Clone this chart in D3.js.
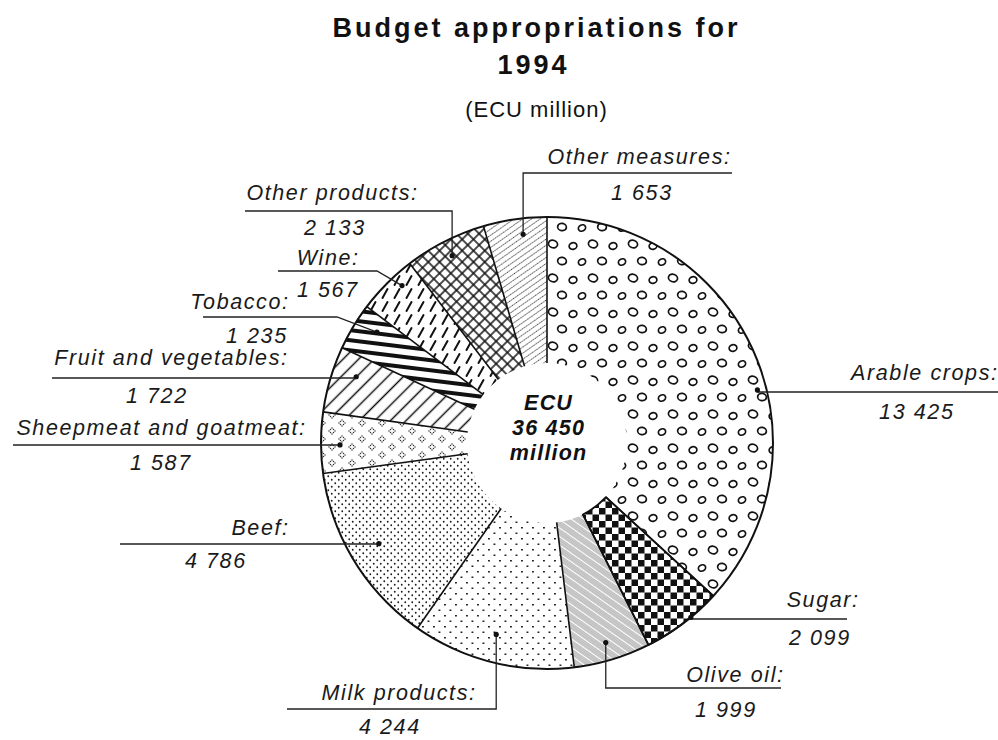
<!DOCTYPE html>
<html>
<head>
<meta charset="utf-8">
<script src="https://cdn.jsdelivr.net/npm/d3@7"></script>
<style>
  body { margin: 0; background: #fff; }
  svg { display: block; font-family: "Liberation Sans", Arial, Helvetica, sans-serif; }
</style>
</head>
<body>
<svg id="chart" width="998" height="740"></svg>
<script>
// CAP budget appropriations, 1994 (ECU million), clockwise from 12 o'clock
const categories = [
  "Arable crops", "Sugar", "Olive oil", "Milk products", "Beef",
  "Sheepmeat and goatmeat", "Fruit and vegetables", "Tobacco", "Wine",
  "Other products", "Other measures"
];
const values = [13425, 2099, 1999, 4244, 4786, 1587, 1722, 1235, 1567, 2133, 1653];
const fillPatterns = [
  "p-arable", "p-sugar", "p-olive", "p-milk", "p-beef",
  "p-sheep", "p-fruit", "p-tobacco", "p-wine", "p-otherprod", "p-othermeas"
];
const titleLines = ["Budget appropriations for", "1994"];
const subtitle = "(ECU million)";
const centreLines = ["ECU", null, "million"]; // middle line holds the total

// Callout layout: anchor point inside the slice (t = fraction of its sweep, r = radius),
// the level of the leader's horizontal run, and where the two text lines sit.
const labelLayout = [
  { t: 0.572, r: 217, lineY: 392, elbowX: null, endX: 998, nameX: 997, nameY: 380, numX: 916, numY: 419 },
  { t: 0.38,  r: 226, lineY: 619, elbowX: null, endX: 847, nameX: 858, nameY: 607, numX: 819, numY: 645 },
  { t: 0.52,  r: 208, lineY: 688, elbowX: null, endX: 781, nameX: 783, nameY: 682, numX: 725, numY: 717 },
  { t: 0.52,  r: 198, lineY: 709, elbowX: null, endX: 287, nameX: 475, nameY: 700, numX: 389, numY: 734 },
  { t: 0.51,  r: 196, lineY: 544, elbowX: null, endX: 120, nameX: 288, nameY: 535, numX: 215, numY: 568 },
  { t: 0.46,  r: 207, lineY: 445, elbowX: null, endX: 13,  nameX: 305, nameY: 435, numX: 160, numY: 470 },
  { t: 0.66,  r: 202, lineY: 378, elbowX: null, endX: 52,  nameX: 287, nameY: 365, numX: 156, numY: 403 },
  { t: 0.67,  r: 203, lineY: 317, elbowX: 337,  endX: 203, nameX: 288, nameY: 309, numX: 256, numY: 343 },
  { t: 0.66,  r: 214, lineY: 271, elbowX: 377,  endX: 278, nameX: 358, nameY: 265, numX: 327, numY: 297 },
  { t: 0.50,  r: 210, lineY: 211, elbowX: null, endX: 245, nameX: 417, nameY: 200, numX: 334, numY: 235 },
  { t: 0.60,  r: 210, lineY: 173, elbowX: null, endX: 732, nameX: 730, nameY: 164, numX: 641, numY: 200 }
];

const cx = 547, cy = 443, outerR = 226, innerR = 80;
const fmt = v => d3.format(",")(v).replace(/,/g, " ");
const labelSize = 21.5, labelSpacing = 1.6;

const svg = d3.select("#chart");
const defs = svg.append("defs");

function makePattern(id, w, h, transform) {
  const p = defs.append("pattern")
    .attr("id", id)
    .attr("patternUnits", "userSpaceOnUse")
    .attr("width", w).attr("height", h);
  if (transform) p.attr("patternTransform", transform);
  p.append("rect").attr("width", w).attr("height", h).attr("fill", "#fff");
  return p;
}

// Arable crops: open rings of slightly uneven size
{
  const w = 40, h = 34;
  const p = makePattern("p-arable", w, h);
  const rings = [[6, 5, 4.6, 3.8, 20], [26, 7, 3.9, 3.3, -15], [15, 22, 4.4, 3.6, 10], [35, 23, 3.7, 3.1, -25]];
  rings.forEach(([x, y, rx, ry, a]) => {
    [[0, 0], [w, 0], [-w, 0], [0, h], [0, -h], [w, h], [-w, -h], [w, -h], [-w, h]].forEach(([ox, oy]) => {
      const X = x + ox, Y = y + oy;
      p.append("ellipse")
        .attr("cx", X).attr("cy", Y).attr("rx", rx).attr("ry", ry)
        .attr("transform", `rotate(${a},${X},${Y})`)
        .attr("fill", "#fff").attr("stroke", "#111").attr("stroke-width", 1.7);
    });
  });
}
// Sugar: checkerboard
{
  const p = makePattern("p-sugar", 13, 13);
  p.append("rect").attr("x", 0).attr("y", 0).attr("width", 6.5).attr("height", 6.5).attr("fill", "#111");
  p.append("rect").attr("x", 6.5).attr("y", 6.5).attr("width", 6.5).attr("height", 6.5).attr("fill", "#111");
}
// Olive oil: bands of fine dots
{
  const p = makePattern("p-olive", 2, 7, "rotate(35)");
  [0.4, 2.4, 4.4].forEach(y => p.append("rect").attr("x", 0.4).attr("y", y)
    .attr("width", 1.1).attr("height", 1.1).attr("fill", "#444"));
}
// Milk products: sparse dots
{
  const p = makePattern("p-milk", 11, 11);
  [[1.5, 1.5], [7, 7]].forEach(([x, y]) => p.append("rect").attr("x", x).attr("y", y)
    .attr("width", 1.9).attr("height", 1.5).attr("fill", "#222"));
}
// Beef: dense dots
{
  const p = makePattern("p-beef", 7, 7);
  [[1.75, 1.75], [5.25, 5.25]].forEach(([x, y]) => p.append("circle")
    .attr("cx", x).attr("cy", y).attr("r", 0.9).attr("fill", "#1a1a1a"));
}
// Sheepmeat and goatmeat: little diamonds of dots
{
  const p = makePattern("p-sheep", 20, 16);
  const ring = [[0, -3], [1.5, -1.5], [3, 0], [1.5, 1.5], [0, 3], [-1.5, 1.5], [-3, 0], [-1.5, -1.5]];
  [[5, 4], [15, 12], [25, 4], [-5, 12], [5, 20], [25, 20], [15, -4]].forEach(([x, y]) =>
    ring.forEach(([dx, dy]) => p.append("circle")
      .attr("cx", x + dx).attr("cy", y + dy).attr("r", 0.75).attr("fill", "#333")));
}
// Fruit and vegetables: diagonal hatching
{
  const p = makePattern("p-fruit", 11, 11, "rotate(45)");
  p.append("line").attr("x1", 5.5).attr("x2", 5.5).attr("y1", 0).attr("y2", 11)
    .attr("stroke", "#111").attr("stroke-width", 1.5);
}
// Tobacco: heavy stripes
{
  const p = makePattern("p-tobacco", 10, 10, "rotate(7)");
  p.append("rect").attr("x", 0).attr("y", 0).attr("width", 10).attr("height", 4).attr("fill", "#111");
}
// Wine: short dashes
{
  const p = makePattern("p-wine", 12, 13);
  p.append("line").attr("x1", 3.5).attr("y1", 11).attr("x2", 8.5).attr("y2", 2)
    .attr("stroke", "#111").attr("stroke-width", 2).attr("stroke-linecap", "round");
}
// Other products: cross-hatching
{
  const p = makePattern("p-otherprod", 8, 8, "rotate(45)");
  p.append("line").attr("x1", 4).attr("x2", 4).attr("y1", 0).attr("y2", 8).attr("stroke", "#111").attr("stroke-width", 1.5);
  p.append("line").attr("x1", 0).attr("x2", 8).attr("y1", 4).attr("y2", 4).attr("stroke", "#111").attr("stroke-width", 1.5);
}
// Other measures: fine dotted hatching
{
  const p = makePattern("p-othermeas", 5, 5, "rotate(-35)");
  p.append("line").attr("x1", 0).attr("x2", 5).attr("y1", 2.5).attr("y2", 2.5)
    .attr("stroke", "#333").attr("stroke-width", 0.9).attr("stroke-dasharray", "1.4 0.9");
}

// ---- title ----
const title = svg.append("g").attr("text-anchor", "middle").attr("fill", "#111");
title.append("text").attr("x", 535 + 1.5).attr("y", 37)
  .attr("font-size", 27).attr("font-weight", "bold").attr("letter-spacing", 3).text(titleLines[0]);
title.append("text").attr("x", 532 + 1.5).attr("y", 74)
  .attr("font-size", 27).attr("font-weight", "bold").attr("letter-spacing", 3).text(titleLines[1]);
title.append("text").attr("x", 536 + 0.5).attr("y", 117)
  .attr("font-size", 22).attr("letter-spacing", 1).text(subtitle);

// ---- ring ----
const pie = d3.pie().sort(null).value(d => d).startAngle(0).endAngle(2 * Math.PI);
const arcs = pie(values);
const arc = d3.arc().innerRadius(innerR).outerRadius(outerR);
const g = svg.append("g").attr("transform", `translate(${cx},${cy})`);

g.selectAll("path.slice").data(arcs).join("path")
  .attr("class", "slice")
  .attr("d", arc)
  .attr("fill", (d, i) => `url(#${fillPatterns[i]})`);

// radial dividers
g.selectAll("line.divider").data(arcs).join("line")
  .attr("class", "divider")
  .attr("x1", d => innerR * Math.sin(d.startAngle))
  .attr("y1", d => -innerR * Math.cos(d.startAngle))
  .attr("x2", d => outerR * Math.sin(d.startAngle))
  .attr("y2", d => -outerR * Math.cos(d.startAngle))
  .attr("stroke", "#111").attr("stroke-width", 1.6);

// sugar slice carries a full outline
g.append("path").attr("d", arc(arcs[1]))
  .attr("fill", "none").attr("stroke", "#111").attr("stroke-width", 1.8).attr("stroke-linejoin", "round");

g.append("circle").attr("r", outerR).attr("fill", "none").attr("stroke", "#111").attr("stroke-width", 2);

// ---- callouts ----
const anchor = (d, L) => {
  const a = d.startAngle + L.t * (d.endAngle - d.startAngle);
  return [cx + L.r * Math.sin(a), cy - L.r * Math.cos(a)];
};

const callouts = svg.append("g");
arcs.forEach((d, i) => {
  const L = labelLayout[i];
  const [ax, ay] = anchor(d, L);
  const ex = L.elbowX == null ? ax : L.elbowX;
  callouts.append("path")
    .attr("d", d3.line()([[ax, ay], [ex, L.lineY], [L.endX, L.lineY]]))
    .attr("fill", "none").attr("stroke", "#222").attr("stroke-width", 1.3);
  callouts.append("circle").attr("cx", ax).attr("cy", ay).attr("r", 2.6).attr("fill", "#111");
  callouts.append("text")
    .attr("x", L.nameX + labelSpacing).attr("y", L.nameY)
    .attr("text-anchor", "end").attr("font-style", "italic").attr("font-size", labelSize)
    .attr("letter-spacing", labelSpacing).attr("fill", "#1a1a1a")
    .text(categories[i] + ":");
  callouts.append("text")
    .attr("x", L.numX + labelSpacing / 2).attr("y", L.numY)
    .attr("text-anchor", "middle").attr("font-style", "italic").attr("font-size", labelSize)
    .attr("letter-spacing", labelSpacing).attr("fill", "#1a1a1a")
    .text(fmt(values[i]));
});

// ---- total in the hole ----
const total = d3.sum(values);
const centre = svg.append("g").attr("text-anchor", "middle")
  .attr("font-weight", "bold").attr("font-style", "italic").attr("font-size", 21.5)
  .attr("letter-spacing", 1.2).attr("fill", "#111");
[centreLines[0], fmt(total), centreLines[2]].forEach((t, k) =>
  centre.append("text").attr("x", 548 + 0.6).attr("y", 410 + k * 25).text(t));
</script>
</body>
</html>
